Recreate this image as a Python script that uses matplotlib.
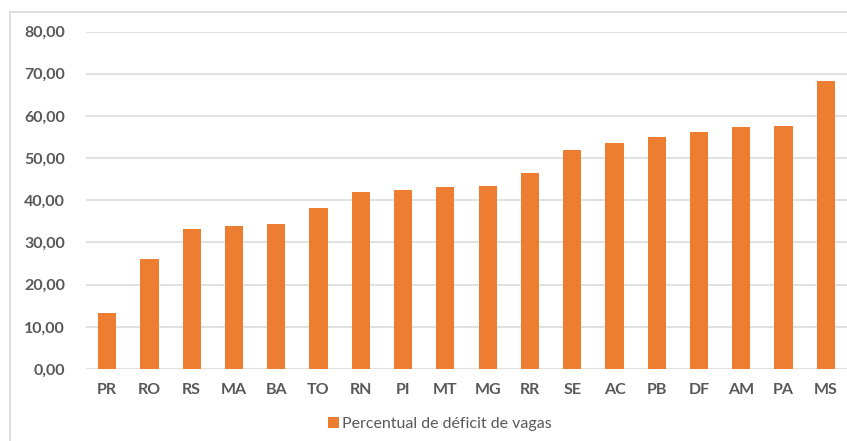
import matplotlib
matplotlib.use('Agg')
import matplotlib.pyplot as plt
from matplotlib.patches import Rectangle

estados = ['PR', 'RO', 'RS', 'MA', 'BA', 'TO', 'RN', 'PI', 'MT', 'MG',
           'RR', 'SE', 'AC', 'PB', 'DF', 'AM', 'PA', 'MS']
deficit = [13.2, 26.0, 33.2, 33.8, 34.4, 38.2, 41.9, 42.4, 43.1, 43.4,
           46.4, 52.0, 53.7, 55.1, 56.2, 57.4, 57.7, 68.2]
yticks = [0, 10, 20, 30, 40, 50, 60, 70, 80]

plt.rcParams['font.family'] = ['Lato', 'DejaVu Sans']
txt = '#595959'
grid = '#d9d9d9'

W, H = 847, 441
fig = plt.figure(figsize=(W / 100, H / 100), dpi=100)
ax = fig.add_axes([86 / W, 1 - 369 / H, 1 - 86 / W, (369 - 31.6) / H])

# outer chart frame (top and left edges visible)
fig.patches.append(Rectangle((10 / W, -0.1), 1.2, 1 - 12 / H + 0.1,
                             transform=fig.transFigure, fill=False,
                             edgecolor=grid, linewidth=1.2))

x = range(len(estados))
ax.bar(x, deficit, width=0.43, color='#ED7D31', zorder=3,
       label='Percentual de déficit de vagas')
ax.set_xlim(-0.5, len(estados) - 0.5)
ax.set_ylim(0, 80)
ax.set_yticks(yticks)
ax.set_yticklabels([f'{v:.2f}'.replace('.', ',') for v in yticks])
ax.set_xticks(list(x))
ax.set_xticklabels(estados)
ax.tick_params(axis='y', length=0, pad=15, labelsize=11.5, labelcolor=txt)
ax.tick_params(axis='x', length=0, pad=10, labelsize=11.5, labelcolor=txt)
for t in ax.get_yticklabels() + ax.get_xticklabels():
    t.set_fontweight('bold')
ax.grid(axis='y', color=grid, linewidth=1.1, zorder=0)
for s in ax.spines.values():
    s.set_visible(False)

fig.legend(loc='center', bbox_to_anchor=(440 / W, 1 - 424 / H),
           frameon=False, handlelength=0.7, handleheight=0.7,
           handletextpad=0.2, fontsize=11.5, labelcolor=txt)

fig.savefig('out.png', dpi=100)
